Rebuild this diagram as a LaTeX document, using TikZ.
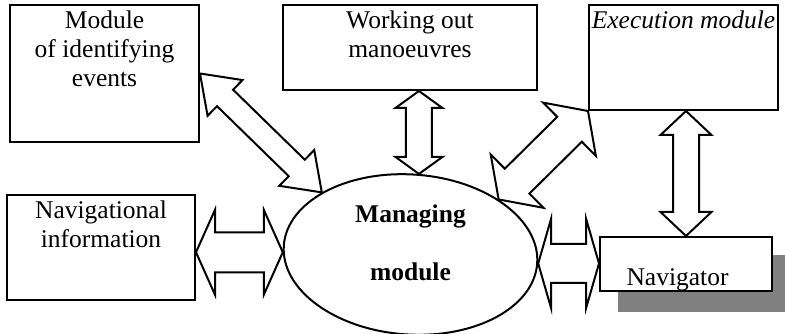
\documentclass[tikz,border=0pt]{standalone}
\usepackage{fontspec}
\setmainfont{Liberation Serif}
\usetikzlibrary{calc,shapes.geometric}

\newcommand{\dblarrow}[5]{%
  \draw[link] (#1) -- ($(#1)!#5!(#2)!#4!90:(#2)$) -- ($(#1)!#5!(#2)!#3!90:(#2)$)
    -- ($(#2)!#5!(#1)!#3!-90:(#1)$) -- ($(#2)!#5!(#1)!#4!-90:(#1)$) -- (#2)
    -- ($(#2)!#5!(#1)!#4!90:(#1)$) -- ($(#2)!#5!(#1)!#3!90:(#1)$)
    -- ($(#1)!#5!(#2)!#3!-90:(#2)$) -- ($(#1)!#5!(#2)!#4!-90:(#2)$) -- cycle;}

\begin{document}
\begin{tikzpicture}[x=1pt, y=-1pt, font=\fontsize{25.5}{29}\selectfont,
  module/.style={draw, line width=2pt, fill=white},
  txt/.style={anchor=north, align=center, inner sep=7pt},
  link/.style={line width=2pt, line join=miter}]
\useasboundingbox (0,0) rectangle (785,334);
\node[module, minimum width=189pt, minimum height=137pt, label={[txt]north:{Module\\of identifying\\events}}] (ident) at (104.5,73.5) {};
\node[module, minimum width=254pt, minimum height=85pt, label={[txt]north:{Working out\\manoeuvres}}] (work) at (410,47.5) {};
\node[module, minimum width=189pt, minimum height=105pt, label={[txt]north:{\itshape Execution module}}] (exec) at (683.5,57.5) {};
\node[module, minimum width=188pt, minimum height=105pt, label={[txt]north:{Navigational\\information}}] (navinfo) at (101,247.5) {};
\fill[gray] (618,255) rectangle (785,312);
\node[module, minimum width=172pt, minimum height=54pt, label={[anchor=base, xshift=-8.5pt, yshift=-16pt]center:Navigator}] (nav) at (686,264) {};
\node[module, ellipse, rotate=-4, minimum width=254pt, minimum height=160pt] (manage) at (410.5,254.5) {};
\node[font={\fontsize{25.5}{29}\selectfont\bfseries}, align=center] (managetxt) at ($(manage.center)+(0,-12)$) {Managing\\[29pt]module};
\coordinate (a2) at (work.south -| manage.88);
\coordinate (a4) at (nav.north |- exec.south);
\coordinate (a5) at (navinfo.east |- manage.183);
\coordinate (a6) at (nav.west |- manage.east);
\dblarrow{ident.east}{manage.149}{11.5pt}{25pt}{35pt}
\dblarrow{a2}{manage.88}{13pt}{23.5pt}{17pt}
\dblarrow{manage.36}{exec.south west}{17.5pt}{37.5pt}{26pt}
\dblarrow{a4}{nav.north}{13pt}{25.5pt}{24pt}
\dblarrow{a5}{manage.183}{20pt}{42.5pt}{19pt}
\dblarrow{manage.east}{a6}{19.5pt}{45pt}{13pt}
\end{tikzpicture}
\end{document}
